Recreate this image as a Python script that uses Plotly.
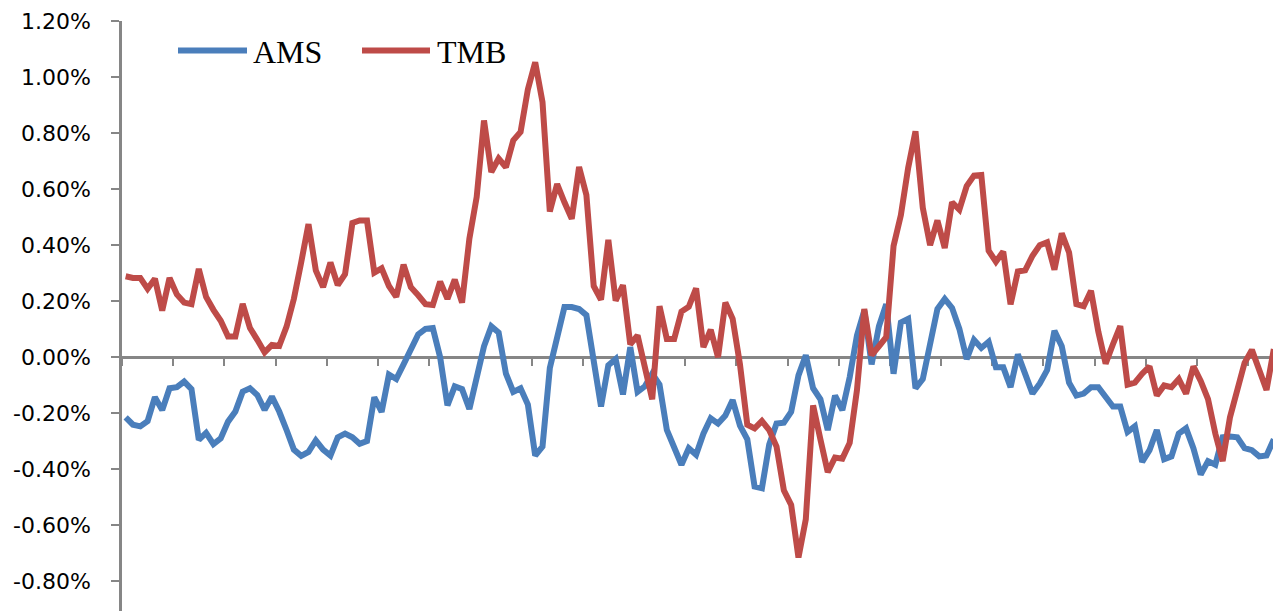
import plotly.graph_objects as go

# ---- data (values in percent) ----
series_names = ["AMS", "TMB"]

ams = [-0.215, -0.241, -0.247, -0.228, -0.143, -0.189, -0.111, -0.107, -0.087, -0.114,
       -0.295, -0.270, -0.310, -0.290, -0.230, -0.194, -0.123, -0.111, -0.135, -0.188,
       -0.141, -0.194, -0.260, -0.330, -0.352, -0.338, -0.297, -0.330, -0.351, -0.286,
       -0.273, -0.286, -0.309, -0.299, -0.143, -0.195, -0.062, -0.078, -0.026, 0.026,
       0.081, 0.101, 0.104, 0.000, -0.172, -0.104, -0.114, -0.185, -0.065, 0.039,
       0.110, 0.088, -0.059, -0.124, -0.111, -0.169, -0.351, -0.319, -0.039, 0.078,
       0.179, 0.179, 0.172, 0.150, -0.020, -0.176, -0.029, -0.007, -0.133, 0.036,
       -0.124, -0.104, -0.059, -0.098, -0.260, -0.325, -0.384, -0.325, -0.348, -0.273,
       -0.218, -0.237, -0.208, -0.153, -0.244, -0.293, -0.462, -0.468, -0.312, -0.237,
       -0.234, -0.195, -0.065, 0.007, -0.111, -0.150, -0.260, -0.137, -0.189, -0.072,
       0.078, 0.166, -0.026, 0.110, 0.189, -0.059, 0.124, 0.137, -0.111, -0.078,
       0.059, 0.172, 0.208, 0.176, 0.101, -0.007, 0.062, 0.033, 0.055, -0.036,
       -0.036, -0.107, 0.010, -0.059, -0.130, -0.094, -0.046, 0.094, 0.039, -0.091,
       -0.137, -0.130, -0.107, -0.107, -0.143, -0.176, -0.176, -0.267, -0.247, -0.374,
       -0.332, -0.260, -0.364, -0.354, -0.273, -0.254, -0.325, -0.419, -0.371, -0.384,
       -0.286, -0.283, -0.286, -0.325, -0.332, -0.354, -0.351, -0.293]

tmb = [0.289, 0.283, 0.283, 0.244, 0.280, 0.166, 0.283, 0.224, 0.195, 0.189,
       0.315, 0.215, 0.169, 0.130, 0.074, 0.074, 0.190, 0.104, 0.062, 0.017,
       0.044, 0.040, 0.109, 0.208, 0.338, 0.475, 0.310, 0.250, 0.338, 0.257,
       0.296, 0.479, 0.488, 0.488, 0.302, 0.317, 0.254, 0.215, 0.330, 0.250,
       0.221, 0.189, 0.186, 0.270, 0.208, 0.277, 0.195, 0.423, 0.572, 0.845,
       0.661, 0.709, 0.678, 0.774, 0.804, 0.956, 1.053, 0.910, 0.520, 0.618,
       0.553, 0.494, 0.679, 0.579, 0.254, 0.205, 0.419, 0.202, 0.257, 0.046,
       0.078, -0.026, -0.150, 0.182, 0.065, 0.065, 0.163, 0.180, 0.246, 0.036,
       0.098, 0.000, 0.195, 0.137, -0.026, -0.241, -0.254, -0.228, -0.260, -0.319,
       -0.475, -0.527, -0.715, -0.579, -0.172, -0.293, -0.410, -0.358, -0.362, -0.306,
       -0.117, 0.172, 0.007, 0.039, 0.072, 0.397, 0.507, 0.676, 0.806, 0.533,
       0.400, 0.488, 0.390, 0.553, 0.527, 0.611, 0.648, 0.650, 0.380, 0.341,
       0.377, 0.189, 0.306, 0.310, 0.362, 0.400, 0.410, 0.312, 0.442, 0.374,
       0.189, 0.182, 0.237, 0.091, -0.023, 0.046, 0.111, -0.098, -0.091, -0.059,
       -0.033, -0.137, -0.101, -0.107, -0.078, -0.130, -0.033, -0.085, -0.150, -0.273,
       -0.371, -0.215, -0.117, -0.020, 0.026, -0.046, -0.117, 0.029]

ytick_vals = [1.2, 1.0, 0.8, 0.6, 0.4, 0.2, 0.0, -0.2, -0.4, -0.6, -0.8]
ytick_text = ["1.20%", "1.00%", "0.80%", "0.60%", "0.40%", "0.20%", "0.00%",
              "-0.20%", "-0.40%", "-0.60%", "-0.80%"]

colors = ["#4A7EBB", "#BE4B48"]
x = list(range(len(ams)))

# the page body adds an 8px offset, so the figure is sized to end at the window edge
OFF = 8
W, H = 1281 - OFF, 611 - OFF
ML, MR, MT, MB = 122 - OFF, 0, 21 - OFF, 0
y_lo, y_hi = -0.906, 1.2

fig = go.Figure()
for name, vals, col in zip(series_names, [ams, tmb], colors):
    fig.add_trace(go.Scatter(x=x, y=vals, mode="lines", name=name,
                             line=dict(color=col, width=6), showlegend=False))

axis_col = "#868686"
fig.update_layout(
    width=W, height=H,
    margin=dict(l=ML, r=MR, t=MT, b=MB, pad=0),
    paper_bgcolor="white", plot_bgcolor="white",
    xaxis=dict(range=[-0.5, 157.98], tickmode="linear", tick0=-0.5, dtick=7,
               showgrid=False, zeroline=False, showticklabels=False,
               showline=True, linecolor=axis_col, linewidth=2.5,
               ticks="outside", ticklen=7, tickwidth=2, tickcolor=axis_col,
               anchor="free", position=(0 - y_lo) / (y_hi - y_lo),
               layer="below traces"),
    yaxis=dict(range=[y_lo, y_hi], tickmode="array", tickvals=ytick_vals,
               ticktext=ytick_text, showgrid=False, zeroline=False,
               showline=True, linecolor=axis_col, linewidth=2.5,
               ticks="outside", ticklen=8, tickwidth=2, tickcolor=axis_col,
               ticklabelstandoff=16,
               tickfont=dict(family="DejaVu Sans", size=22, color="black"),
               layer="below traces"),
)

# legend drawn at screen pixel positions (converted to paper fractions)
pw, ph = W - ML - MR, H - MT - MB
def px(xs):
    return (xs - OFF - ML) / pw
def py(ys):
    return (H - MB - (ys - OFF)) / ph

leg_items = [(178, 247, 251), (362, 430, 435)]
for (x0, x1, xt), name, col in zip(leg_items, series_names, colors):
    fig.add_shape(type="line", xref="paper", yref="paper",
                  x0=px(x0), x1=px(x1), y0=py(50.5), y1=py(50.5),
                  line=dict(color=col, width=6))
    fig.add_annotation(xref="paper", yref="paper", x=px(xt), y=py(52),
                       text=name, showarrow=False, xanchor="left", yanchor="middle",
                       font=dict(family="Liberation Serif", size=32, color="black"))

fig.write_html("out.html")
